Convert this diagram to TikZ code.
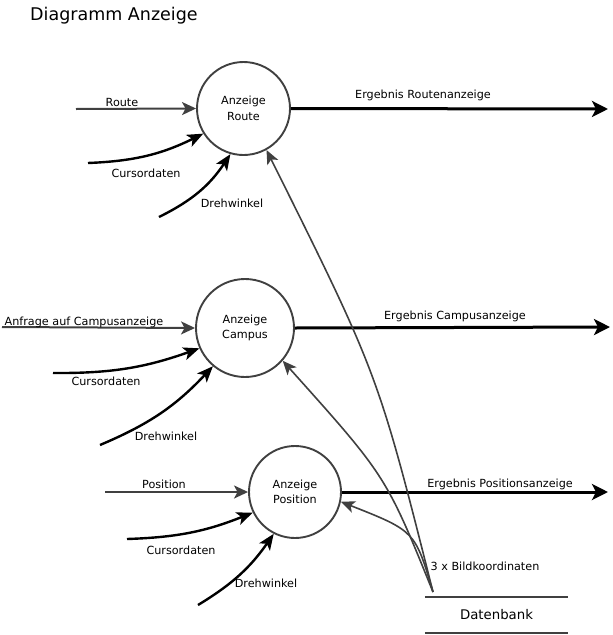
\documentclass[tikz,border=0pt]{standalone}
\usepackage{fontspec}
\setmainfont{DejaVu Sans}
\usetikzlibrary{arrows.meta}
\definecolor{linegray}{HTML}{404040}
\tikzset{
  lbl/.style={anchor=base,inner sep=0pt,font=\fontsize{11.2}{13}\selectfont},
  proc/.style={circle,draw=linegray,line width=1.9pt,inner sep=0pt,align=center,font=\fontsize{11.2}{15.5}\selectfont},
  inflow/.style={draw=linegray,line width=2pt,-{Stealth[length=14pt,width=13pt,inset=3.5pt]}},
  curflow/.style={draw=black,line width=2.4pt,-{Stealth[length=16pt,width=13pt,inset=4pt]}},
  outflow/.style={draw=black,line width=3pt,-{Stealth[length=16pt,width=16pt,inset=4pt]}},
  backflow/.style={draw=linegray,line width=1.6pt,-{Stealth[length=14pt,width=12pt,inset=3.5pt]}},
}
\begin{document}
\begin{tikzpicture}[x=1pt,y=-1pt]
\useasboundingbox (0,0) rectangle (613,635);
\node[anchor=base west,inner sep=0pt,font=\fontsize{17.5}{20}\selectfont] (title) at (30,20) {Diagramm Anzeige};

% process nodes
\node[proc,minimum size=93pt] (route) at (243.5,108.5) {Anzeige\\Route};
\node[proc,minimum size=98pt] (campus) at (245,328) {Anzeige\\Campus};
\node[proc,minimum size=92pt] (pos) at (295,492) {Anzeige\\Position};

% database
\node[minimum width=143pt,minimum height=36pt,inner sep=0pt,font=\fontsize{13.3}{15}\selectfont] (db) at (496.5,615) {Datenbank};
\draw[linegray,line width=1.9pt] (db.north west) -- (db.north east);
\draw[linegray,line width=1.9pt] (db.south west) -- (db.south east);
\coordinate (dbsrc) at (433,592);

% tail coordinates
\coordinate (rin) at (76,109);
\coordinate (rcur) at (88,163);
\coordinate (rdreh) at (159,217);
\coordinate (rout) at (608,109);
\coordinate (cin) at (2,327);
\coordinate (ccur) at (53,373);
\coordinate (cdreh) at (100,445);
\coordinate (cout) at (610,327);
\coordinate (pin) at (105,492);
\coordinate (pcur) at (127,539);
\coordinate (pdreh) at (198,605);
\coordinate (pout) at (608,492);

% route inputs
\draw[inflow] (rin) -- (route.west);
\draw[curflow] (rcur) to[bend right=12] (route.212);
\draw[curflow] (rdreh) to[bend right=15] (route.254);
\draw[outflow] (route.east) -- (rout);

% campus inputs
\draw[inflow] (cin) -- (campus.west);
\draw[curflow] (ccur) to[bend right=10] (campus.204);
\draw[curflow] (cdreh) to[bend right=12] (campus.230);
\draw[outflow] (campus.east) -- (cout);

% position inputs
\draw[inflow] (pin) -- (pos.west);
\draw[curflow] (pcur) to[bend right=10] (pos.206);
\draw[curflow] (pdreh) to[bend right=12] (pos.243);
\draw[outflow] (pos.east) -- (pout);

% database feedback
\draw[backflow] (dbsrc) .. controls (378,374) .. (route.299);
\draw[backflow] (dbsrc) .. controls (386,476) .. (campus.319);
\draw[backflow] (dbsrc) .. controls (415,531) .. (pos.348);

% labels
\node[lbl] (lr) at (122,106) {Route};
\node[lbl] (lrc) at (146,177) {Cursordaten};
\node[lbl] (lrd) at (232,207) {Drehwinkel};
\node[lbl] (lro) at (423,98) {Ergebnis Routenanzeige};
\node[lbl] (lc) at (84,325) {Anfrage auf Campusanzeige};
\node[lbl] (lcc) at (106,385) {Cursordaten};
\node[lbl] (lcd) at (166,440) {Drehwinkel};
\node[lbl] (lco) at (455,319) {Ergebnis Campusanzeige};
\node[lbl] (lp) at (164,488) {Position};
\node[lbl] (lpc) at (181,554) {Cursordaten};
\node[lbl] (lpd) at (266,587) {Drehwinkel};
\node[lbl] (lpo) at (500,487) {Ergebnis Positionsanzeige};
\node[lbl] (ldb) at (485,570) {3 x Bildkoordinaten};
\end{tikzpicture}
\end{document}
